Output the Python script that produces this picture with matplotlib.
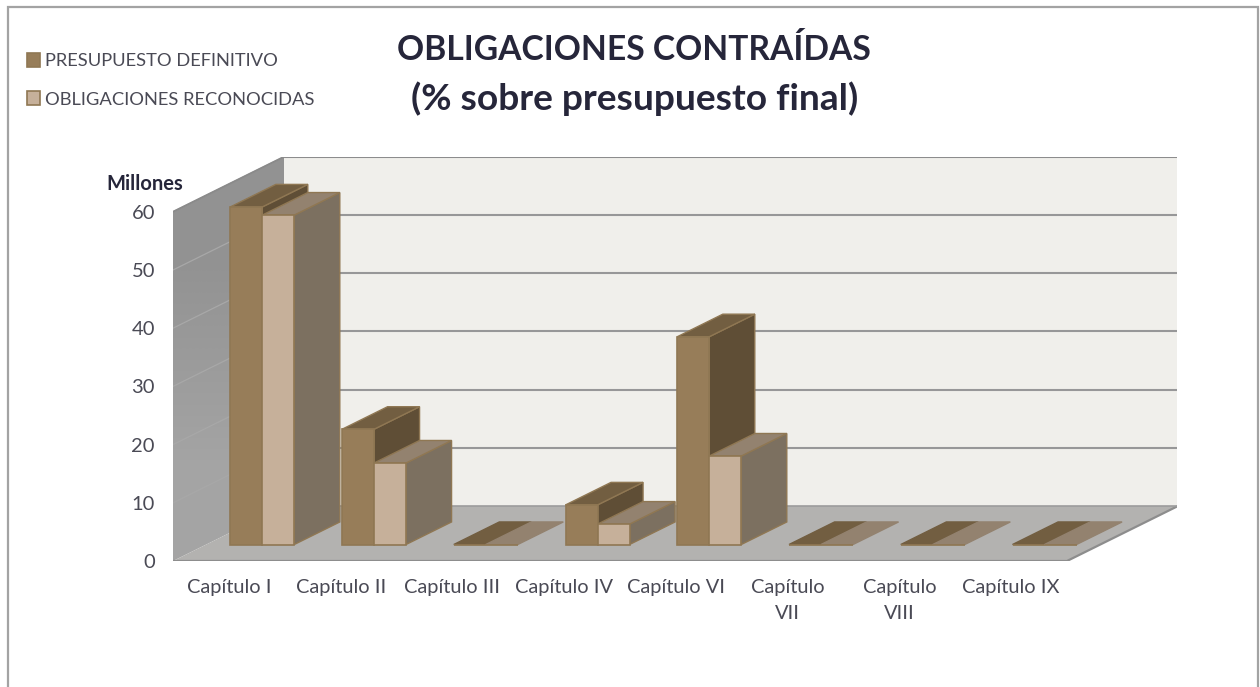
import matplotlib
matplotlib.use('Agg')
from matplotlib import pyplot as plt
from matplotlib.colors import LinearSegmentedColormap
from matplotlib.patches import Polygon, Rectangle

capitulos = ['Capítulo I', 'Capítulo II', 'Capítulo III', 'Capítulo IV', 'Capítulo VI',
             'Capítulo\nVII', 'Capítulo\nVIII', 'Capítulo IX']
presupuesto = [58.0, 19.8, 0, 6.8, 35.7, 0, 0, 0]
obligaciones = [56.6, 14.0, 0, 3.5, 15.2, 0, 0, 0]
ticks_y = [0, 10, 20, 30, 40, 50, 60]

W, H = 1260, 687
X0, XR, Y0, YT = 173, 1177, 561, 157   # plot box in pixels
PX_CAT, PX_VAL = 111.75, 5.82
DX, DY = 111 / PX_CAT, 55 / PX_VAL     # depth of the floor in data units

plt.rcParams['font.family'] = ['Lato', 'DejaVu Sans']
fig = plt.figure(figsize=(W / 100, H / 100), dpi=100)
ax = fig.add_axes([X0 / W, 1 - Y0 / H, (XR - X0) / W, (Y0 - YT) / H])
for s in ax.spines.values():
    s.set_visible(False)
ax.patch.set_visible(False)

# marco
fig.add_artist(Rectangle((8 / W, -0.05), 1250 / W, 1.05 - 7 / H, transform=fig.transFigure,
                         fc='white', ec='#a3a3a3', lw=1.6, zorder=-1))

n = len(capitulos)
top = 60

# paredes y suelo
ax.add_patch(Polygon([(DX, DY), (DX + n, DY), (DX + n, DY + top), (DX, DY + top)],
                     fc='#f0efeb', ec='none', zorder=1))
pared = Polygon([(0, 0), (DX, DY), (DX, DY + top), (0, top)], fc='none', ec='none', zorder=1)
ax.add_patch(pared)
grad = LinearSegmentedColormap.from_list('pared', ['#a4a4a4', '#929292'])
im = ax.imshow([[0], [1]], cmap=grad, origin='lower', extent=(0, DX, 0, DY + top),
               aspect='auto', interpolation='bilinear', zorder=1)
im.set_clip_path(pared)
ax.add_patch(Polygon([(0, 0), (n, 0), (n + DX, DY), (DX, DY)],
                     fc='#b3b2b0', ec='none', zorder=1))
ax.set_xlim(0, (XR - X0) / PX_CAT)
ax.set_ylim(0, (Y0 - YT) / PX_VAL)

for v in ticks_y:
    if v > 0:
        ax.plot([DX, DX + n], [DY + v, DY + v], color='#979798', lw=1.5, zorder=2)
        ax.plot([0, DX], [v, DY + v], color='#a8a8a8', lw=0.9, zorder=2)
ax.plot([0, n, n + DX], [0, 0, DY], color='#8d8d8d', lw=1.6, zorder=2)
ax.plot([DX, DX + n], [DY, DY], color='#9c9c9c', lw=1.2, zorder=2)
ax.plot([0, DX, DX + n], [top, DY + top, DY + top], color='#8a8a8a', lw=1.4, zorder=2)


EDGE = '#8f7753'
ANCHO = 32 / PX_CAT
INI = 24 / PX_CAT
BASE_X, BASE_Y = 0.3 * DX, 0.3 * DY
FX, FY = 0.41 * DX, 0.41 * DY


def barras(valores, desp, front, side, topc, label, z):
    xs = [i + INI + BASE_X + desp for i in range(n)]
    for i, (x, v) in enumerate(zip(xs, valores)):
        y = BASE_Y + v
        if v > 0:
            ax.add_patch(Polygon([(x + ANCHO, BASE_Y), (x + ANCHO + FX, BASE_Y + FY),
                                  (x + ANCHO + FX, y + FY), (x + ANCHO, y)],
                                 fc=side, ec=EDGE, lw=1.0, zorder=z + i * 2))
        ax.add_patch(Polygon([(x, y), (x + FX, y + FY), (x + FX + ANCHO, y + FY), (x + ANCHO, y)],
                             fc=topc, ec=EDGE if v > 0 else topc, lw=1.0, zorder=z + i * 2))
    bars = ax.bar(xs, valores, ANCHO, bottom=BASE_Y, align='edge', color=front,
                  edgecolor=EDGE, lw=1.2, label=label, zorder=z + 2 * n)
    return bars


b1 = barras(presupuesto, 0, '#977d59', '#5f4e36', '#725e41', 'PRESUPUESTO DEFINITIVO', 3)
b2 = barras(obligaciones, ANCHO, '#c6b09a', '#7c7060', '#93826f', 'OBLIGACIONES RECONOCIDAS', 3 + 2 * n + 1)

ax.set_xticks([i + 0.5 for i in range(n)])
ax.set_xticklabels(capitulos, fontsize=14.4, color='#4a4a55', linespacing=1.65, va='top')
ax.set_yticks(ticks_y)
ax.set_yticklabels([str(v) for v in ticks_y], fontsize=14.5, color='#4a4a55')
ax.tick_params(axis='x', length=0, pad=13)
ax.tick_params(axis='y', length=0, pad=13)

fig.text(145 / W, 1 - 184 / H, 'Millones', fontsize=14.5, fontweight='bold', color='#26263a',
         ha='center', va='center')
fig.text(634 / W, 1 - 50 / H, 'OBLIGACIONES CONTRAÍDAS', fontsize=24.2, fontweight='bold',
         color='#26263a', ha='center', va='center')
fig.text(635 / W, 1 - 99 / H, '(% sobre presupuesto final)', fontsize=26.7, fontweight='bold',
         color='#26263a', ha='center', va='center')

fig.legend(handles=[b1, b2], loc='upper left', bbox_to_anchor=(27 / W, 1 - 53 / H),
           frameon=False, fontsize=13.2, labelcolor='#4a4a55', handlelength=0.7,
           handleheight=0.8, handletextpad=0.28, labelspacing=1.2, borderaxespad=0, borderpad=0)

fig.savefig('out.png', dpi=100)
